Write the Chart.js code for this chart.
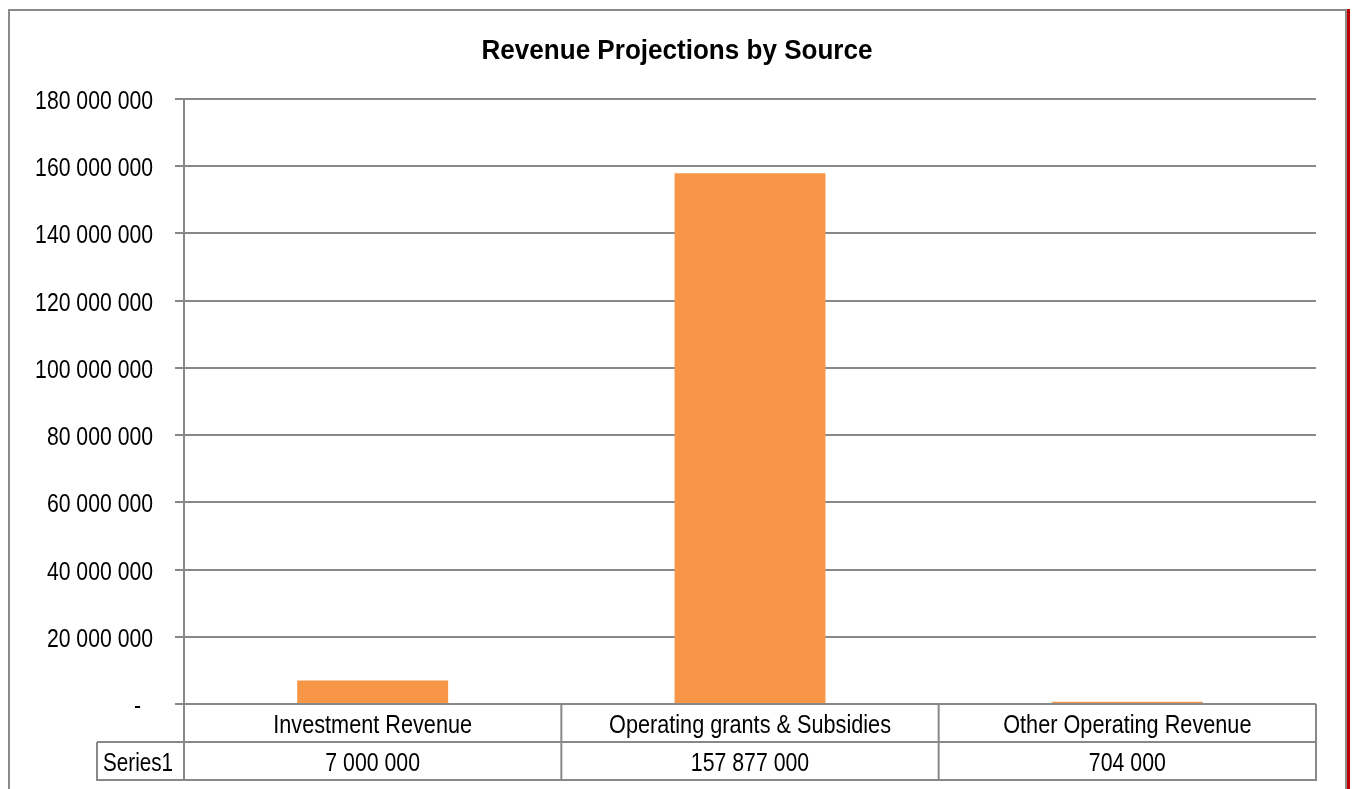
<!DOCTYPE html>
<html>
<head>
<meta charset="utf-8">
<script src="https://cdn.jsdelivr.net/npm/chart.js@4.4.0/dist/chart.umd.min.js"></script>
<style>
  html, body { margin: 0; padding: 0; background: #ffffff; }
  #wrap { position: relative; width: 1353px; height: 789px; }
  canvas { display: block; }
</style>
</head>
<body>
<div id="wrap"><canvas id="c" width="1353" height="789"></canvas></div>
<script>
const chartTitle = "Revenue Projections by Source";
const categories = ["Investment Revenue", "Operating grants & Subsidies", "Other Operating Revenue"];
const seriesName = "Series1";
const seriesValues = [7000000, 157877000, 704000];
const yMin = 0;
const yMax = 180000000;
const yStep = 20000000;

const FONT = '"Liberation Sans Narrow", "Arial Narrow", "Liberation Sans", Arial, sans-serif';
const GRID = '#888888';
const BAR = '#F79646';

function fmt(v) {
  if (v === 0) return '-';
  return String(Math.round(v)).replace(/\B(?=(\d{3})+(?!\d))/g, ' ');
}

// draw text horizontally condensed (emulating a narrow face)
function narrowText(ctx, text, x, y, size, sx, align, bold) {
  ctx.save();
  ctx.font = (bold ? 'bold ' : '') + size + 'px ' + FONT;
  ctx.textAlign = align;
  ctx.textBaseline = 'alphabetic';
  ctx.translate(x, y);
  ctx.scale(sx, 1);
  ctx.fillText(text, 0, 0);
  ctx.restore();
}

const framePlugin = {
  id: 'frame',
  beforeDraw(chart) {
    const ctx = chart.ctx;
    ctx.save();
    ctx.fillStyle = '#ffffff';
    ctx.fillRect(0, 0, chart.width, chart.height);
    ctx.strokeStyle = '#8a8a8a';
    ctx.lineWidth = 2;
    ctx.beginPath();
    ctx.moveTo(9, 800);
    ctx.lineTo(9, 10);
    ctx.lineTo(1346, 10);
    ctx.lineTo(1346, 800);
    ctx.stroke();
    ctx.fillStyle = '#c00000';
    ctx.fillRect(1347, 9, 3, 800);
    ctx.fillStyle = '#000000';
    narrowText(ctx, chartTitle, 677, 58.5, 27, 0.965, 'center', true);
    ctx.restore();
  }
};

const labelPlugin = {
  id: 'labels',
  afterDraw(chart) {
    const ctx = chart.ctx;
    const xs = chart.scales.x;
    const ys = chart.scales.y;
    const ca = chart.chartArea;
    const n = categories.length;
    const step = (ca.right - ca.left) / n;
    const top = ca.bottom;
    const mid = top + 38;
    const bot = top + 76;
    const leftCell = 97;
    ctx.save();

    // y tick labels (zero shown as a dash, indented as in accounting format)
    ctx.fillStyle = '#000000';
    ys.ticks.forEach(t => {
      const py = ys.getPixelForValue(t.value);
      const xr = t.value === 0 ? ca.left - 43 : ca.left - 31;
      narrowText(ctx, fmt(t.value), xr, py + 10, 26.5, 0.8, 'right', false);
    });

    // data table
    ctx.strokeStyle = GRID;
    ctx.lineWidth = 2;
    ctx.beginPath();
    ctx.moveTo(ca.left, top); ctx.lineTo(ca.left, bot + 1);
    for (let i = 1; i <= n; i++) {
      const x = ca.left + step * i;
      ctx.moveTo(x, top); ctx.lineTo(x, bot + 1);
    }
    ctx.moveTo(leftCell, mid); ctx.lineTo(ca.right + 1, mid);
    ctx.moveTo(leftCell - 1, bot); ctx.lineTo(ca.right + 1, bot);
    ctx.moveTo(leftCell, mid); ctx.lineTo(leftCell, bot);
    ctx.stroke();

    ctx.fillStyle = '#000000';
    for (let i = 0; i < n; i++) {
      const cx = xs.getPixelForValue(i);
      narrowText(ctx, categories[i], cx, (top + mid) / 2 + 9.5, 25.5, 0.85, 'center', false);
      narrowText(ctx, fmt(seriesValues[i]), cx, (mid + bot) / 2 + 9.5, 25.5, 0.835, 'center', false);
    }
    narrowText(ctx, seriesName, (leftCell + ca.left) / 2 - 2.5, (mid + bot) / 2 + 9.5, 25.5, 0.81, 'center', false);
    ctx.restore();
  }
};

new Chart(document.getElementById('c'), {
  type: 'bar',
  data: {
    labels: categories,
    datasets: [{
      label: seriesName,
      data: seriesValues,
      backgroundColor: BAR,
      borderWidth: 0,
      categoryPercentage: 1.0,
      barPercentage: 0.4
    }]
  },
  options: {
    responsive: false,
    animation: false,
    devicePixelRatio: 1,
    layout: { padding: { top: 99, bottom: 85, left: 0, right: 37 } },
    plugins: {
      legend: { display: false },
      title: { display: false },
      tooltip: { enabled: false }
    },
    scales: {
      x: {
        display: false,
        grid: { display: false }
      },
      y: {
        min: yMin,
        max: yMax,
        ticks: {
          stepSize: yStep,
          padding: 22,
          color: 'rgba(0,0,0,0)',
          font: { family: FONT, size: 25 },
          callback: (v) => fmt(v)
        },
        grid: {
          color: GRID,
          lineWidth: 2,
          tickLength: 9,
          drawTicks: true
        },
        border: { display: true, color: GRID, width: 2 },
        afterFit(scale) { scale.width = 184; }
      }
    }
  },
  plugins: [framePlugin, labelPlugin]
});
</script>
</body>
</html>
